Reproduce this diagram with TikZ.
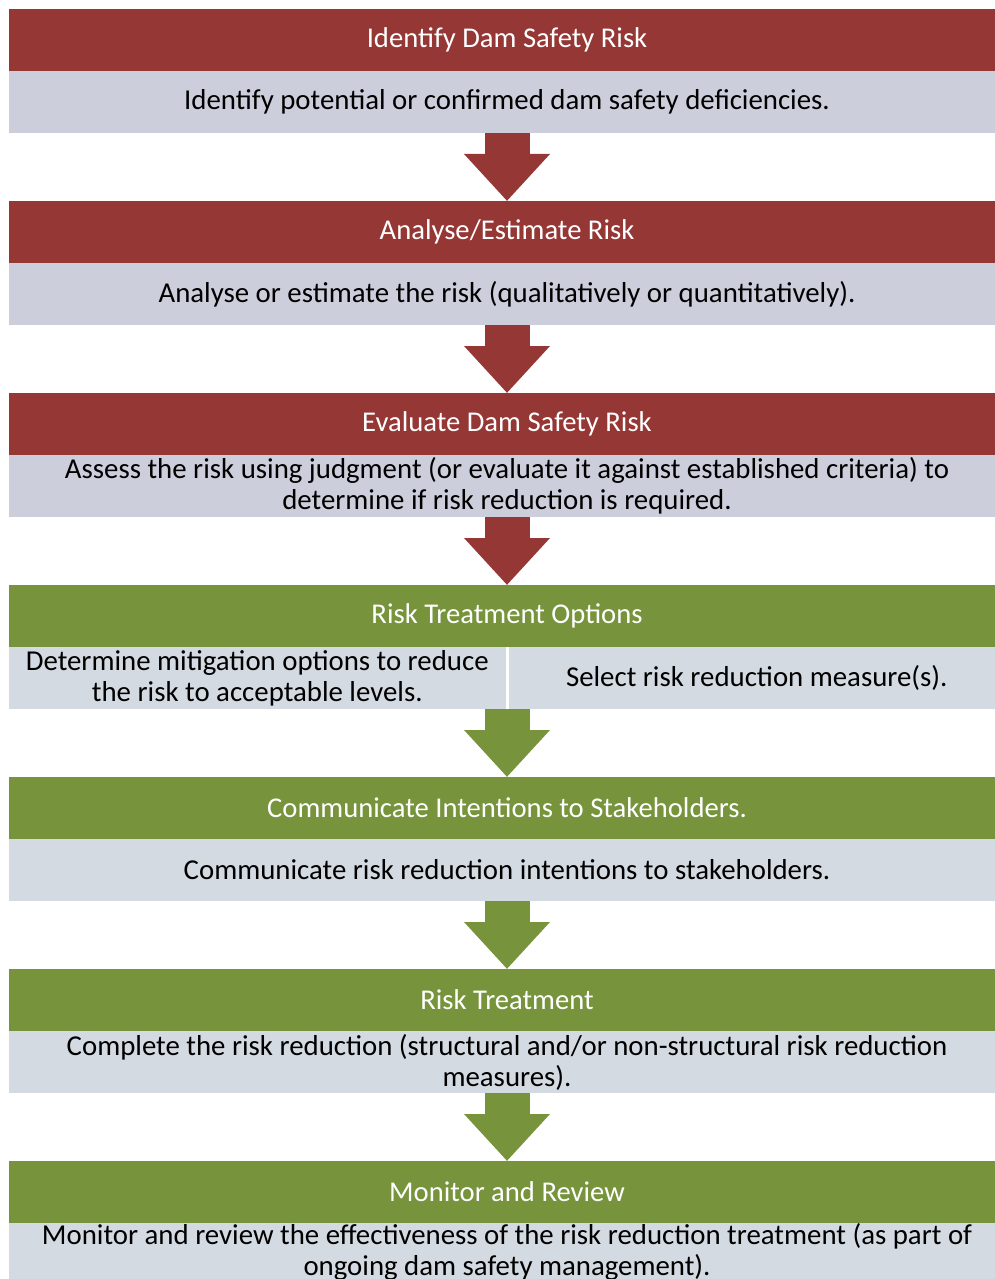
\documentclass[tikz,border=0pt]{standalone}
\usepackage{fontspec}
\setmainfont{Carlito}
\usetikzlibrary{positioning,arrows.meta}
\definecolor{damred}{HTML}{953735}
\definecolor{damgreen}{HTML}{77933C}
\definecolor{greyred}{HTML}{CDCEDB}
\definecolor{greygreen}{HTML}{D4DAE1}

\begin{document}
\begin{tikzpicture}[
 node distance=1.36cm,
 headbox/.style={rectangle,inner sep=0pt,outer sep=0pt,
   minimum width=19.92cm,minimum height=1.24cm,
   text=white,font=\fontsize{16.3}{18}\selectfont},
 textbox/.style={rectangle,inner sep=0pt,outer sep=0pt,
   minimum width=19.92cm,minimum height=1.24cm,
   align=center,font=\fontsize{16.4}{17.6}\selectfont},
 halfbox/.style={textbox,minimum width=9.93cm},
 flow/.style={line width=0.9cm,-{Triangle[width=1.66cm,length=0.94cm]}}]
 \useasboundingbox (0,0) rectangle (19.9,-25.58);
 % identify
 \node[headbox,fill=damred] (hident) at (10.14,-0.8)
   {Identify Dam Safety Risk};
 \node[textbox,fill=greyred,below=0pt of hident] (tident)
   {Identify potential or confirmed dam safety deficiencies.};
 % analyse
 \node[headbox,fill=damred,below=of tident] (hanalyse)
   {Analyse/Estimate Risk};
 \node[textbox,fill=greyred,below=0pt of hanalyse] (tanalyse)
   {Analyse or estimate the risk (qualitatively or quantitatively).};
 % evaluate
 \node[headbox,fill=damred,below=of tanalyse] (heval)
   {Evaluate Dam Safety Risk};
 \node[textbox,fill=greyred,below=0pt of heval] (teval)
   {Assess the risk using judgment (or evaluate it against established criteria) to\\
    determine if risk reduction is required.};
 % treatment options
 \node[headbox,fill=damgreen,below=of teval] (hoptions)
   {Risk Treatment Options};
 \node[halfbox,fill=greygreen,anchor=north west] (tdetermine) at (hoptions.south west)
   {Determine mitigation options to reduce\\the risk to acceptable levels.};
 \node[halfbox,fill=greygreen,anchor=north east] (tselect) at (hoptions.south east)
   {Select risk reduction measure(s).};
 \coordinate (toptions) at (hoptions.south |- tdetermine.south);
 % communicate
 \node[headbox,fill=damgreen,below=of toptions] (hcomm)
   {Communicate Intentions to Stakeholders.};
 \node[textbox,fill=greygreen,below=0pt of hcomm] (tcomm)
   {Communicate risk reduction intentions to stakeholders.};
 % treatment
 \node[headbox,fill=damgreen,below=of tcomm] (htreat)
   {Risk Treatment};
 \node[textbox,fill=greygreen,below=0pt of htreat] (ttreat)
   {Complete the risk reduction (structural and/or non-structural risk reduction\\
    measures).};
 % monitor (grey band runs off the page)
 \node[headbox,fill=damgreen,below=of ttreat] (hmonitor)
   {Monitor and Review};
 \node[textbox,fill=greygreen,minimum height=0.95cm,below=0pt of hmonitor] (tmonitor)
   {Monitor and review the effectiveness of the risk reduction treatment (as part of\\
    ongoing dam safety management).};
 \fill[greygreen] (tmonitor.south west) rectangle ([yshift=-0.35cm]tmonitor.south east);
 % arrows
 \draw[flow,damred] (tident) -- (hanalyse);
 \draw[flow,damred] (tanalyse) -- (heval);
 \draw[flow,damred] (teval) -- (hoptions);
 \draw[flow,damgreen] (toptions) -- (hcomm);
 \draw[flow,damgreen] (tcomm) -- (htreat);
 \draw[flow,damgreen] (ttreat) -- (hmonitor);
\end{tikzpicture}
\end{document}
